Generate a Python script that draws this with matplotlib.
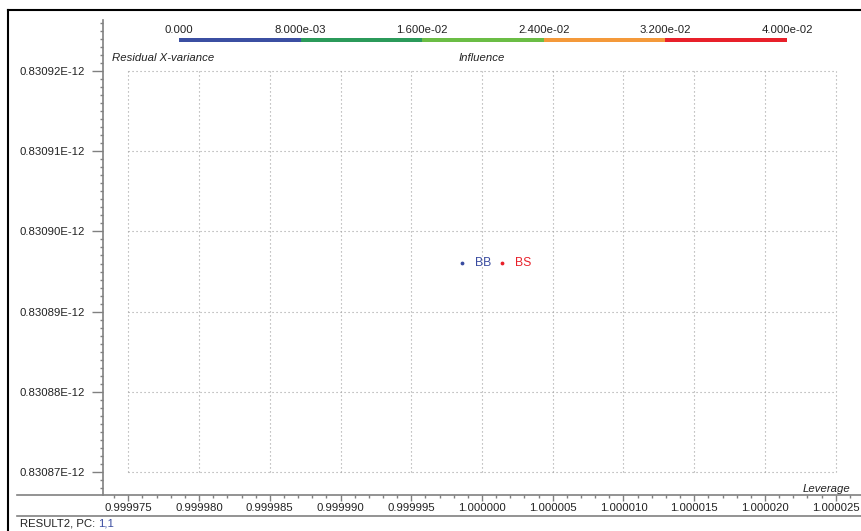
import numpy as np
import matplotlib.pyplot as plt
from matplotlib.lines import Line2D
from matplotlib.ticker import FuncFormatter, MultipleLocator

plt.rcParams['font.family'] = ['Liberation Sans', 'DejaVu Sans']

# samples (leverage, residual X-variance in units of E-12)
names = ["BB", "BS"]
leverage = [0.9999986, 1.0000014]
resid_e12 = [0.8308961, 0.8308961]
name_colors = ["#3a4ca0", "#e8202a"]

x_ticks = [0.999975, 0.999980, 0.999985, 0.999990, 0.999995,
           1.000000, 1.000005, 1.000010, 1.000015, 1.000020, 1.000025]
y_ticks = [0.83087, 0.83088, 0.83089, 0.83090, 0.83091, 0.83092]

# influence colour scale
infl_bounds = [0.0, 0.008, 0.016, 0.024, 0.032, 0.040]
infl_labels = ["0.000", "8.000e-03", "1.600e-02", "2.400e-02", "3.200e-02", "4.000e-02"]
infl_colors = ["#3b4fa2", "#2b9a5a", "#6bbd45", "#f4993a", "#e8202a"]

W, H = 862, 531
fig = plt.figure(figsize=(W / 100, H / 100), dpi=100)

def fx(px):
    return px / W

def fy(py):
    return 1 - py / H

fs = 8.2
ax = fig.add_axes([fx(103), fy(495), 1 - fx(103), fy(20) - fy(495)])
ax.set_xlim(0.99997321, 1.00002686)
ax.set_ylim(0.8308671, 0.8309264)

axis_grey = "#808080"
txt = "#222222"
for s in ["top", "right", "bottom"]:
    ax.spines[s].set_visible(False)
ax.spines["left"].set_color(axis_grey)
ax.spines["left"].set_linewidth(1.2)

ax.set_xticks(x_ticks)
ax.set_xticklabels(["%.6f" % v for v in x_ticks])
ax.set_yticks(y_ticks)
ax.yaxis.set_major_formatter(FuncFormatter(lambda v, p: "%.5fE-12" % v))
ax.xaxis.set_minor_locator(MultipleLocator(1e-6))
ax.yaxis.set_minor_locator(MultipleLocator(1e-6))
ax.tick_params(axis="y", which="major", length=8, width=1, color=axis_grey,
               labelsize=fs, labelcolor=txt, pad=5)
ax.tick_params(axis="y", which="minor", length=2.5, width=1, color=axis_grey)
ax.tick_params(axis="x", which="major", length=4, width=1, color=axis_grey,
               labelsize=fs, labelcolor=txt, pad=2)
ax.tick_params(axis="x", which="minor", length=2, width=1, color=axis_grey)

# dotted grid box
dots = (0, (1, 2.6))
ax.hlines(y_ticks, x_ticks[0], x_ticks[-1], colors="#a0a0a0", linewidth=0.8, linestyles=dots)
ax.vlines(x_ticks, y_ticks[0], y_ticks[-1], colors="#a0a0a0", linewidth=0.8, linestyles=dots)

# samples
for n, xv, yv, c in zip(names, leverage, resid_e12, name_colors):
    ax.scatter([xv], [yv], s=3, color=c, zorder=3)
    ax.annotate(n, (xv, yv), xytext=(9.5, 0), textcoords="offset points",
                color=c, fontsize=8.8, va="center", ha="left")

# frame lines
for y0 in [495, 516]:
    fig.add_artist(Line2D([fx(17), 1], [fy(y0), fy(y0)], color=axis_grey, lw=1.2))
fig.add_artist(Line2D([fx(8), fx(8)], [0, fy(10)], color="black", lw=1.5))
fig.add_artist(Line2D([fx(8), 1], [fy(10), fy(10)], color="black", lw=1.5))

fig.text(fx(112), fy(58), "Residual X-variance", style="italic", fontsize=fs,
         color=txt, va="center", ha="left")
fig.text(fx(459), fy(58), "Influence", style="italic", fontsize=fs,
         color=txt, va="center", ha="left")
fig.text(fx(850), fy(489), "Leverage", style="italic", fontsize=fs,
         color=txt, va="center", ha="right")
t1 = fig.text(fx(20), fy(524), "RESULT2, PC: ", fontsize=fs, color=txt,
              va="center", ha="left")
fig.canvas.draw()
bb = t1.get_window_extent()
fig.text(bb.x1 / W, fy(524), "1,1", fontsize=fs, color="#3a4ca0", va="center", ha="left")

# colour bar
cax = fig.add_axes([fx(179), fy(42), fx(787) - fx(179), fy(37.5) - fy(42)])
for i, c in enumerate(infl_colors):
    cax.barh(0, infl_bounds[i + 1] - infl_bounds[i], left=infl_bounds[i],
             height=1, color=c)
cax.set_xlim(infl_bounds[0], infl_bounds[-1])
cax.set_ylim(-0.5, 0.5)
cax.xaxis.tick_top()
cax.set_xticks(infl_bounds)
cax.set_xticklabels(infl_labels)
cax.tick_params(axis="x", length=0, labelsize=fs, labelcolor=txt, pad=2)
cax.set_yticks([])
for s in cax.spines.values():
    s.set_visible(False)

fig.savefig("out.png", dpi=100)
